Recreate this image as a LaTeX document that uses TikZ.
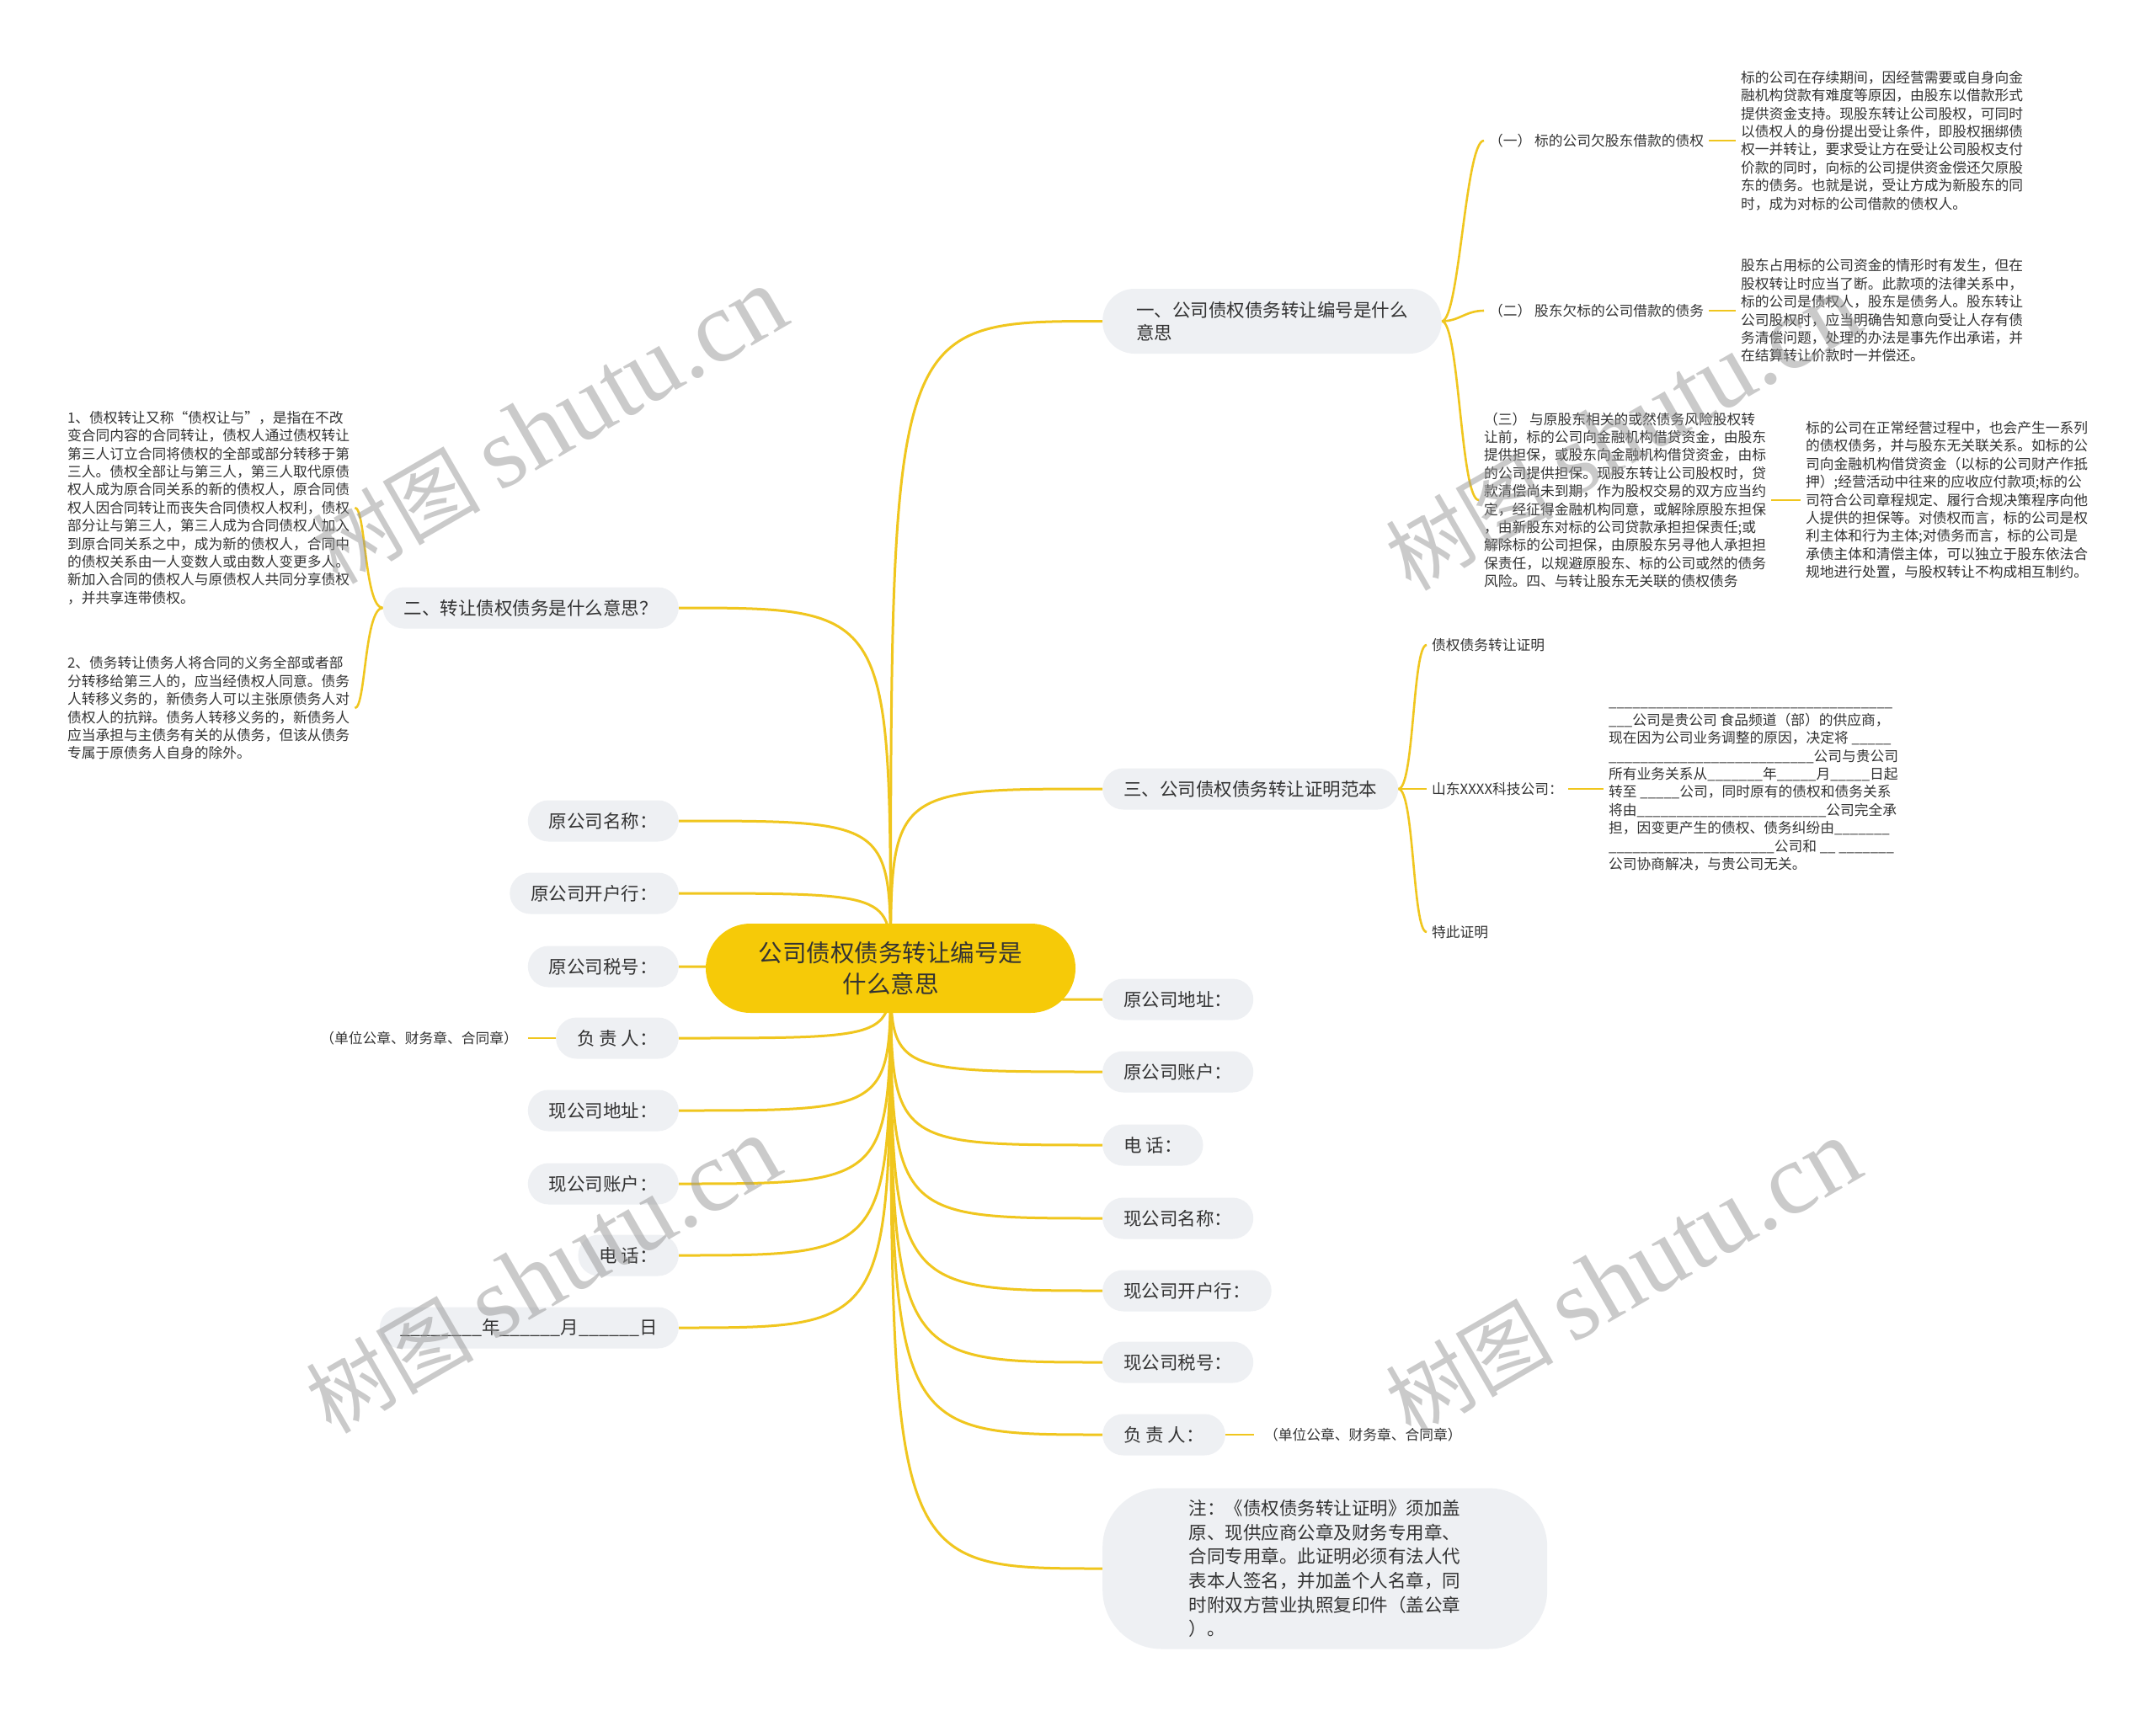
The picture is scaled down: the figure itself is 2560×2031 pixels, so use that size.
\documentclass[tikz,border=0pt]{standalone}
\usepackage{fontspec}
\setmainfont{Noto Sans CJK SC}
\newfontfamily\wmlatin{Liberation Serif}
\usetikzlibrary{calc,backgrounds}
\definecolor{ylw}{RGB}{240,198,30}
\definecolor{ctrfill}{RGB}{246,202,8}
\definecolor{pillgray}{RGB}{238,240,243}
\definecolor{txt}{RGB}{51,51,51}
\definecolor{wm}{RGB}{150,150,150}
\ExplSyntaxOn
\newcommand\us[1]{\prg_replicate:nn{#1}{\_}}
\ExplSyntaxOff
\tikzset{
  pill/.style={fill=pillgray, rounded corners=24.5pt, minimum height=49pt, inner xsep=25pt, inner ysep=0pt, font=\fontsize{21.5}{27}\selectfont, text=txt},
  small/.style={font=\fontsize{16.75}{21.4}\selectfont, text=txt, align=left, inner xsep=6pt, inner ysep=2pt},
  seal/.style={small, inner xsep=12pt},
  link/.style={draw=ylw, line width=3pt},
  brlink/.style={draw=ylw, line width=2.6pt},
  wmark/.style={rotate=30, text=wm, opacity=0.5, font=\fontsize{100}{100}\selectfont},
}
\begin{document}
\begin{tikzpicture}[x=1pt,y=-1pt]
\useasboundingbox (0,0) rectangle (2560,2031);
% central topic
\node[fill=ctrfill, rounded corners=53pt, minimum width=439pt, minimum height=106pt, align=center, font=\fontsize{28.5}{37}\selectfont, text=txt] (ctr) at (1057.5,1150) {公司债权债务转让编号是\\什么意思};

% right main branches
\node[pill, anchor=west, minimum height=77pt, rounded corners=38pt, inner xsep=40pt, align=left] (n1) at (1309,381.5) {一、公司债权债务转让编号是什么\\意思};
\node[pill, anchor=west] (n3) at (1309,937) {三、公司债权债务转让证明范本};
\node[pill, anchor=west] (r1) at (1309,1187) {原公司地址：};
\node[pill, anchor=west] (r2) at (1309,1273) {原公司账户：};
\node[pill, anchor=west] (r3) at (1309,1360) {电 话：};
\node[pill, anchor=west] (r4) at (1309,1447) {现公司名称：};
\node[pill, anchor=west] (r5) at (1309,1533) {现公司开户行：};
\node[pill, anchor=west] (r6) at (1309,1618) {现公司税号：};
\node[pill, anchor=west] (r7) at (1309,1704) {负 责 人：};
\node[seal, anchor=west] (r7n) at (1489,1704) {（单位公章、财务章、合同章）};
\node[pill, anchor=west, minimum width=528pt, minimum height=191pt, rounded corners=70pt, align=left, font=\fontsize{21.5}{28.7}\selectfont] (note) at (1309,1863) {注：《债权债务转让证明》须加盖\\原、现供应商公章及财务专用章、\\合同专用章。此证明必须有法人代\\表本人签名，并加盖个人名章，同\\时附双方营业执照复印件（盖公章\\）。};

% left main branches
\node[pill, anchor=east] (n2) at (806,722) {二、转让债权债务是什么意思？};
\node[pill, anchor=east] (l1) at (806,975) {原公司名称：};
\node[pill, anchor=east] (l2) at (806,1061) {原公司开户行：};
\node[pill, anchor=east] (l3) at (806,1148) {原公司税号：};
\node[pill, anchor=east] (l4) at (806,1233) {负 责 人：};
\node[seal, anchor=east] (l4n) at (627,1233) {（单位公章、财务章、合同章）};
\node[pill, anchor=east] (l5) at (806,1319) {现公司地址：};
\node[pill, anchor=east] (l6) at (806,1406) {现公司账户：};
\node[pill, anchor=east] (l7) at (806,1491) {电 话：};
\node[pill, anchor=east] (l8) at (806,1577) {\us{8}年\us{6}月\us{6}日};

% branch one details
\node[small, anchor=west] (a1) at (1762,167) {（一） 标的公司欠股东借款的债权};
\node[small, anchor=west] (d1) at (2061,167) {标的公司在存续期间，因经营需要或自身向金\\融机构贷款有难度等原因，由股东以借款形式\\提供资金支持。现股东转让公司股权，可同时\\以债权人的身份提出受让条件，即股权捆绑债\\权一并转让，要求受让方在受让公司股权支付\\价款的同时，向标的公司提供资金偿还欠原股\\东的债务。也就是说，受让方成为新股东的同\\时，成为对标的公司借款的债权人。};
\node[small, anchor=west] (a2) at (1762,369) {（二） 股东欠标的公司借款的债务};
\node[small, anchor=west] (d2) at (2061,369) {股东占用标的公司资金的情形时有发生，但在\\股权转让时应当了断。此款项的法律关系中，\\标的公司是债权人，股东是债务人。股东转让\\公司股权时，应当明确告知意向受让人存有债\\务清偿问题，处理的办法是事先作出承诺，并\\在结算转让价款时一并偿还。};
\node[small, anchor=west] (a3) at (1756,594) {（三） 与原股东相关的或然债务风险股权转\\让前，标的公司向金融机构借贷资金，由股东\\提供担保，或股东向金融机构借贷资金，由标\\的公司提供担保。现股东转让公司股权时，贷\\款清偿尚未到期，作为股权交易的双方应当约\\定，经征得金融机构同意，或解除原股东担保\\，由新股东对标的公司贷款承担担保责任;或\\解除标的公司担保，由原股东另寻他人承担担\\保责任，以规避原股东、标的公司或然的债务\\风险。四、与转让股东无关联的债权债务};
\node[small, anchor=west] (d3) at (2138,594) {标的公司在正常经营过程中，也会产生一系列\\的债权债务，并与股东无关联关系。如标的公\\司向金融机构借贷资金（以标的公司财产作抵\\押）;经营活动中往来的应收应付款项;标的公\\司符合公司章程规定、履行合规决策程序向他\\人提供的担保等。对债权而言，标的公司是权\\利主体和行为主体;对债务而言，标的公司是\\承债主体和清偿主体，可以独立于股东依法合\\规地进行处置，与股权转让不构成相互制约。};

% branch three details
\node[small, anchor=west] (b1) at (1694,766) {债权债务转让证明};
\node[small, anchor=west] (b2) at (1694,937) {山东XXXX科技公司：};
\node[small, anchor=west] (b3) at (1904,937) {\us{36}\\\us{3}公司是贵公司 食品频道（部）的供应商，\\现在因为公司业务调整的原因，决定将 \us{5}\\\us{26}公司与贵公司\\所有业务关系从\us{7}年\us{5}月\us{5}日起\\转至 \us{5}公司，同时原有的债权和债务关系\\将由\us{24}公司完全承\\担，因变更产生的债权、债务纠纷由\us{7}\\\us{21}公司和 \us{2} \us{7}\\公司协商解决，与贵公司无关。};
\node[small, anchor=west] (b4) at (1694,1107) {特此证明};

% branch two details
\node[small, anchor=west] (t1) at (74,603) {1、债权转让又称“债权让与”，是指在不改\\变合同内容的合同转让，债权人通过债权转让\\第三人订立合同将债权的全部或部分转移于第\\三人。债权全部让与第三人，第三人取代原债\\权人成为原合同关系的新的债权人，原合同债\\权人因合同转让而丧失合同债权人权利，债权\\部分让与第三人，第三人成为合同债权人加入\\到原合同关系之中，成为新的债权人，合同中\\的债权关系由一人变数人或由数人变更多人。\\新加入合同的债权人与原债权人共同分享债权\\，并共享连带债权。};
\node[small, anchor=west] (t2) at (74,841) {2、债务转让债务人将合同的义务全部或者部\\分转移给第三人的，应当经债权人同意。债务\\人转移义务的，新债务人可以主张原债务人对\\债权人的抗辩。债务人转移义务的，新债务人\\应当承担与主债务有关的从债务，但该从债务\\专属于原债务人自身的除外。};

\begin{pgfonlayer}{background}
\fill[white] (0,0) rectangle (2560,2031);
\foreach \n in {n1,n3,r1,r2,r3,r4,r5,r6,r7,note}
  \draw[link] (ctr.center) .. controls (ctr.center |- \n.west) .. (\n.west);
\foreach \n in {n2,l1,l2,l3,l4,l5,l6,l7,l8}
  \draw[link] (ctr.center) .. controls (ctr.center |- \n.east) .. (\n.east);
\foreach \c in {a1,a2,a3}
  \draw[brlink] (n1.east) .. controls ($(n1.east)+(21,0)$) and ($(\c.west)+(-22,0)$) .. (\c.west);
\draw[brlink] (a1.east) -- (d1.west);
\draw[brlink] (a2.east) -- (d2.west);
\draw[brlink] (a3.east) -- (d3.west);
\foreach \c in {b1,b2,b4}
  \draw[brlink] (n3.east) .. controls ($(n3.east)+(19,0)$) and ($(\c.west)+(-17,0)$) .. (\c.west);
\draw[brlink] (b2.east) -- (b3.west);
\foreach \c in {t1,t2}
  \draw[brlink] (n2.west) .. controls ($(n2.west)+(-22,0)$) and ($(\c.east)+(13,0)$) .. (\c.east);
\draw[brlink] (r7.east) -- (r7n.west);
\draw[brlink] (l4.west) -- (l4n.east);
\end{pgfonlayer}

% watermarks
\node[wmark] (w1) at (653,506) {树图 {\wmlatin\fontsize{120}{120}\selectfont shutu.cn}};
\node[wmark] (w2) at (1927,514) {树图 {\wmlatin\fontsize{120}{120}\selectfont shutu.cn}};
\node[wmark] (w3) at (645,1515) {树图 {\wmlatin\fontsize{120}{120}\selectfont shutu.cn}};
\node[wmark] (w4) at (1927,1518) {树图 {\wmlatin\fontsize{120}{120}\selectfont shutu.cn}};
\end{tikzpicture}
\end{document}
